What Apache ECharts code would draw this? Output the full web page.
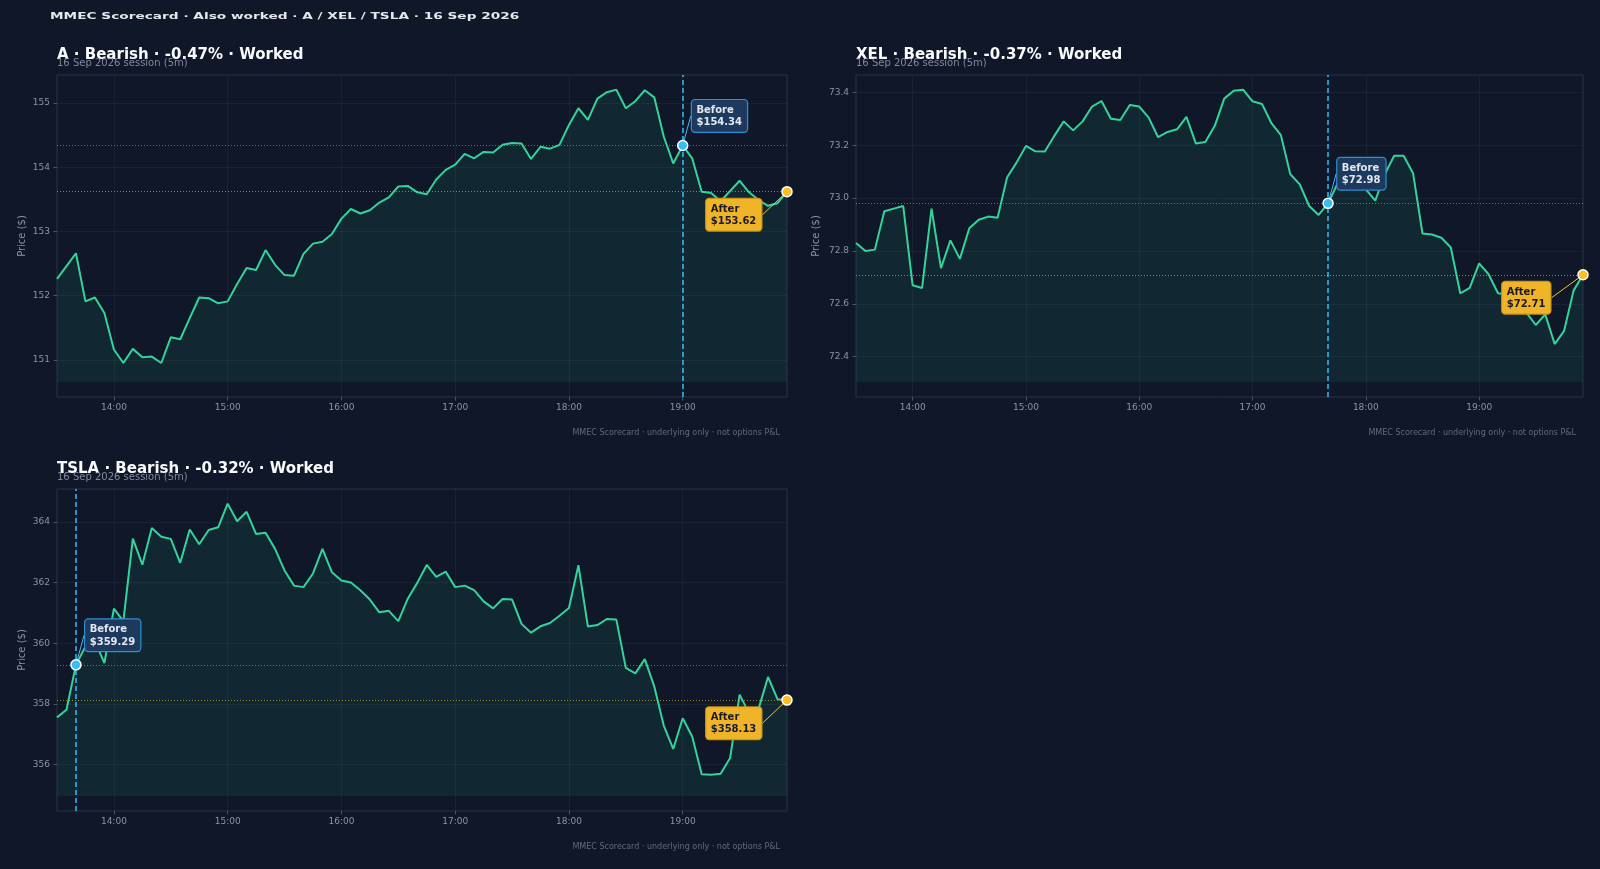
<!DOCTYPE html>
<html>
<head>
<meta charset="utf-8">
<script src="https://cdn.jsdelivr.net/npm/echarts@6/dist/echarts.min.js"></script>
<style>
html,body{margin:0;padding:0;background:#0f1729;}
#c{width:1600px;height:869px;}
</style>
</head>
<body>
<div id="c"></div>
<script>
// ---- data ----
const times = ["13:30","13:35","13:40","13:45","13:50","13:55","14:00","14:05","14:10","14:15","14:20","14:25",
"14:30","14:35","14:40","14:45","14:50","14:55","15:00","15:05","15:10","15:15","15:20","15:25",
"15:30","15:35","15:40","15:45","15:50","15:55","16:00","16:05","16:10","16:15","16:20","16:25",
"16:30","16:35","16:40","16:45","16:50","16:55","17:00","17:05","17:10","17:15","17:20","17:25",
"17:30","17:35","17:40","17:45","17:50","17:55","18:00","18:05","18:10","18:15","18:20","18:25",
"18:30","18:35","18:40","18:45","18:50","18:55","19:00","19:05","19:10","19:15","19:20","19:25",
"19:30","19:35","19:40","19:45","19:50","19:55"];

const pricesA = [152.26,152.46,152.66,151.91,151.97,151.73,151.16,150.95,151.17,151.04,
151.05,150.95,151.35,151.32,151.65,151.97,151.96,151.88,151.91,152.18,
152.43,152.40,152.71,152.48,152.32,152.31,152.65,152.81,152.84,152.96,
153.20,153.35,153.28,153.33,153.45,153.53,153.70,153.71,153.61,153.58,
153.81,153.96,154.04,154.21,154.14,154.24,154.23,154.35,154.38,154.37,
154.13,154.32,154.29,154.35,154.66,154.92,154.74,155.07,155.17,155.21,
154.92,155.03,155.20,155.09,154.48,154.06,154.34,154.14,153.62,153.60,
153.47,153.63,153.79,153.61,153.49,153.40,153.44,153.62];

const pricesXEL = [72.83,72.80,72.805,72.95,72.96,72.97,72.67,72.66,72.96,72.735,
72.84,72.77,72.886,72.918,72.93,72.926,73.078,73.134,73.197,73.177,
73.176,73.235,73.29,73.256,73.29,73.346,73.367,73.30,73.295,73.352,
73.346,73.304,73.23,73.25,73.26,73.307,73.206,73.212,73.273,73.376,
73.406,73.41,73.366,73.356,73.283,73.238,73.09,73.052,72.97,72.936,
72.98,73.055,73.084,73.065,73.033,72.99,73.09,73.16,73.16,73.094,
72.866,72.862,72.85,72.813,72.64,72.66,72.753,72.712,72.64,72.635,
72.60,72.567,72.52,72.56,72.448,72.498,72.65,72.71];

const pricesTSLA = [357.56,357.81,359.29,359.90,360.07,359.35,361.14,360.73,363.45,362.59,
363.80,363.51,363.44,362.65,363.75,363.26,363.73,363.82,364.60,364.02,
364.33,363.60,363.64,363.11,362.40,361.90,361.85,362.30,363.11,362.34,
362.07,362.00,361.75,361.44,361.02,361.07,360.73,361.47,361.99,362.58,
362.19,362.36,361.85,361.90,361.75,361.38,361.15,361.46,361.44,360.64,
360.35,360.56,360.67,360.91,361.16,362.57,360.55,360.60,360.80,360.78,
359.19,359.01,359.48,358.58,357.29,356.52,357.53,356.93,355.69,355.67,
355.70,356.22,358.31,357.70,357.84,358.89,358.16,358.13];

const yTicksA = [151,152,153,154,155];
const yTicksXEL = [72.4,72.6,72.8,73.0,73.2,73.4];
const yTicksTSLA = [356,358,360,362,364];

const titles = ["A · Bearish · -0.47% · Worked","XEL · Bearish · -0.37% · Worked","TSLA · Bearish · -0.32% · Worked"];
const beforeTimes = ["19:00","17:40","13:40"];
const afterTimes = ["19:55","19:55","19:55"];
const subtitle = "16 Sep 2026 session (5m)";
const footer = "MMEC Scorecard · underlying only · not options P&L";
const mainTitle = "MMEC Scorecard · Also worked · A / XEL / TSLA · 16 Sep 2026";

// ---- layout ----
const FONT = "DejaVu Sans";
const BG = "#0f1729";
const TICKC = "#8a94a6";
const FRAME = "#2b3548";
const GRIDC = "rgba(148,163,184,0.08)";
const layout = [
  {left:57, top:75, width:730, height:322, nameGap:30, dec:0},
  {left:856, top:75, width:727, height:322, nameGap:35, dec:1},
  {left:57, top:489, width:730, height:322, nameGap:30, dec:0}
];
const seriesData = [pricesA, pricesXEL, pricesTSLA];
const tickSets = [yTicksA, yTicksXEL, yTicksTSLA];

const hourFn = (idx, val) => String(val).endsWith(":00");

const grids = [], xAxes = [], yAxes = [], series = [], graphics = [];

layout.forEach((L, i) => {
  const data = seriesData[i];
  const lo = Math.min(...data), hi = Math.max(...data);
  const base = lo * 0.998;
  const pad = (hi - base) * 0.05;
  const bIdx = times.indexOf(beforeTimes[i]);
  const aIdx = times.indexOf(afterTimes[i]);
  const bVal = data[bIdx], aVal = data[aIdx];

  grids.push({left:L.left, top:L.top, width:L.width, height:L.height, show:true,
    borderColor:FRAME, borderWidth:1, backgroundColor:"transparent"});

  xAxes.push({type:"category", gridIndex:i, data:times, boundaryGap:false,
    axisLine:{show:false},
    axisTick:{show:true, interval:hourFn, length:3.5, lineStyle:{color:"#4a5568"}},
    axisLabel:{interval:hourFn, color:TICKC, fontSize:9, margin:6, fontFamily:FONT},
    splitLine:{show:true, interval:hourFn, lineStyle:{color:GRIDC, width:1}}});

  yAxes.push({type:"value", gridIndex:i, min:base - pad, max:hi + pad, scale:true,
    axisLine:{show:false},
    axisTick:{show:true, length:3.5, customValues:tickSets[i], lineStyle:{color:"#4a5568"}},
    axisLabel:{customValues:tickSets[i], formatter:v => Number(v).toFixed(L.dec), color:TICKC,
      fontSize:9, margin:7, fontFamily:FONT},
    splitLine:{show:true, lineStyle:{color:GRIDC, width:1}},
    name:"Price ($)", nameLocation:"middle", nameGap:L.nameGap,
    nameTextStyle:{color:TICKC, fontSize:10, fontFamily:FONT}});

  series.push({type:"line", xAxisIndex:i, yAxisIndex:i, data:data, showSymbol:false, symbol:"none",
    lineStyle:{color:"#34d399", width:2}, itemStyle:{color:"#34d399"},
    areaStyle:{color:"rgba(52,211,153,0.12)", origin:base},
    z:2, silent:true,
    markLine:{silent:true, symbol:"none", label:{show:false}, animation:false,
      data:[
        {xAxis:beforeTimes[i], lineStyle:{color:"#38bdf8", type:[5,3], width:1.5, opacity:1}},
        {yAxis:bVal, lineStyle:{color:"rgba(148,163,184,0.6)", type:[1,2], width:1, opacity:1}},
        {yAxis:aVal, lineStyle:{color:"rgba(251,191,36,0.6)", type:[1,2], width:1, opacity:1}}
      ]}});

  series.push({type:"scatter", xAxisIndex:i, yAxisIndex:i, z:5, silent:true,
    data:[[beforeTimes[i], bVal]], symbolSize:10,
    itemStyle:{color:"#38bdf8", borderColor:"#ffffff", borderWidth:1.5, opacity:1},
    label:{show:true, formatter:"Before\n$" + bVal.toFixed(2), position:[15,-8], align:"left", verticalAlign:"bottom",
      backgroundColor:"#1d3a5e", borderColor:"#2f8fd0", borderWidth:1.2, borderRadius:3,
      padding:[4,5,3,4.5], color:"#e2e8f0", fontWeight:"bold", fontSize:10, lineHeight:12.3, fontFamily:FONT},
    labelLine:{show:true, lineStyle:{color:"#38bdf8", width:1}}});

  series.push({type:"scatter", xAxisIndex:i, yAxisIndex:i, z:5, silent:true, clip:false,
    data:[[afterTimes[i], aVal]], symbolSize:10,
    itemStyle:{color:"#fbbf24", borderColor:"#ffffff", borderWidth:1.5, opacity:1},
    label:{show:true, formatter:"After\n$" + aVal.toFixed(2), position:[-75,13], align:"left", verticalAlign:"top",
      backgroundColor:"#f0b429", borderColor:"#c99418", borderWidth:1.2, borderRadius:3,
      padding:[4,5,3,4.5], color:"#1a1a2e", fontWeight:"bold", fontSize:10, lineHeight:12.3, fontFamily:FONT},
    labelLine:{show:true, lineStyle:{color:"#fbbf24", width:1}}});

  graphics.push({type:"text", x:L.left, y:L.top - 20, z:10,
    style:{text:titles[i], fill:"#f8fafc", font:"bold 15px '" + FONT + "'", align:"left", verticalAlign:"middle",
      textAlign:"left", textVerticalAlign:"middle"}});
  graphics.push({type:"text", x:L.left, y:L.top - 11.5, z:11,
    style:{text:subtitle, fill:"rgba(148,158,175,0.85)", font:"10px '" + FONT + "'", align:"left", verticalAlign:"middle",
      textAlign:"left", textVerticalAlign:"middle"}});
  graphics.push({type:"text", x:L.left + L.width - 7, y:L.top + L.height + 36, z:10,
    style:{text:footer, fill:"#5f6b7d", font:"8px '" + FONT + "'", align:"right", verticalAlign:"middle",
      textAlign:"right", textVerticalAlign:"middle"}});
});

graphics.push({type:"text", x:50, y:17, scaleX:1.52, z:10,
  style:{text:mainTitle, fill:"#e5e7eb", font:"bold 9px '" + FONT + "'", align:"left", verticalAlign:"middle",
    textAlign:"left", textVerticalAlign:"middle"}});

const chart = echarts.init(document.getElementById("c"), null, {renderer:"canvas"});
chart.setOption({
  backgroundColor:BG,
  animation:false,
  textStyle:{fontFamily:FONT},
  grid:grids, xAxis:xAxes, yAxis:yAxes, series:series, graphic:graphics
});
</script>
</body>
</html>
